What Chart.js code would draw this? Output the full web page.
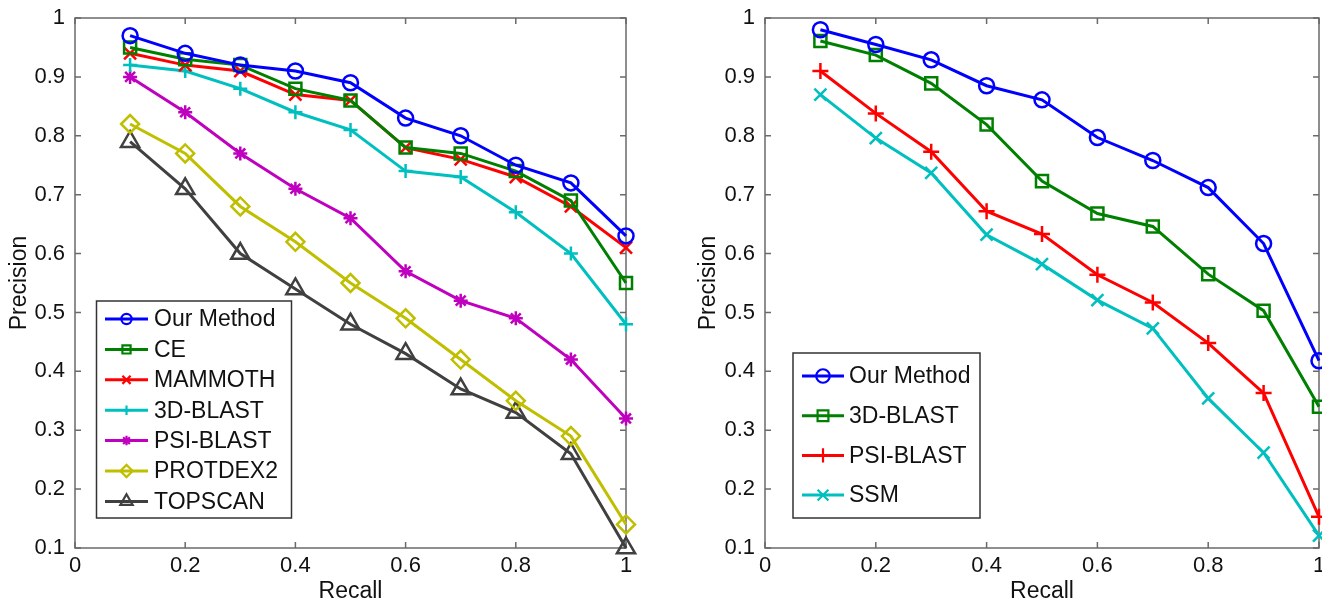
<!DOCTYPE html>
<html><head><meta charset="utf-8">
<script src="https://cdn.jsdelivr.net/npm/chart.js@4.4.1/dist/chart.umd.min.js"></script>
<style>
html,body{margin:0;padding:0;background:#fff;overflow:hidden;width:1322px;height:602px;}
#c1{position:absolute;left:0;top:0;}
#c2{position:absolute;left:660px;top:0;}
</style></head><body>
<canvas id="c1" width="660" height="602"></canvas>
<canvas id="c2" width="720" height="602"></canvas>
<script>
// ---- data ----
const recall = [0.1, 0.2, 0.3, 0.4, 0.5, 0.6, 0.7, 0.8, 0.9, 1.0];
const xTickValues = [0, 0.2, 0.4, 0.6, 0.8, 1];
const xTickLabels = ['0', '0.2', '0.4', '0.6', '0.8', '1'];
const yTickValues = [0.1, 0.2, 0.3, 0.4, 0.5, 0.6, 0.7, 0.8, 0.9, 1];
const yTickLabels = ['0.1', '0.2', '0.3', '0.4', '0.5', '0.6', '0.7', '0.8', '0.9', '1'];

// left panel
const leftNames = ['Our Method', 'CE', 'MAMMOTH', '3D-BLAST', 'PSI-BLAST', 'PROTDEX2', 'TOPSCAN'];
const L_ourMethod = [0.97, 0.94, 0.92, 0.91, 0.89, 0.83, 0.80, 0.75, 0.72, 0.63];
const L_ce        = [0.95, 0.93, 0.92, 0.88, 0.86, 0.78, 0.77, 0.74, 0.69, 0.55];
const L_mammoth   = [0.94, 0.92, 0.91, 0.87, 0.86, 0.78, 0.76, 0.73, 0.68, 0.61];
const L_blast3d   = [0.92, 0.91, 0.88, 0.84, 0.81, 0.74, 0.73, 0.67, 0.60, 0.48];
const L_psiblast  = [0.90, 0.84, 0.77, 0.71, 0.66, 0.57, 0.52, 0.49, 0.42, 0.32];
const L_protdex2  = [0.82, 0.77, 0.68, 0.62, 0.55, 0.49, 0.42, 0.35, 0.29, 0.14];
const L_topscan   = [0.79, 0.71, 0.60, 0.54, 0.48, 0.43, 0.37, 0.33, 0.26, 0.10];

// right panel
const rightNames = ['Our Method', '3D-BLAST', 'PSI-BLAST', 'SSM'];
const R_ourMethod = [0.980, 0.955, 0.929, 0.885, 0.861, 0.797, 0.758, 0.712, 0.617, 0.418];
const R_blast3d   = [0.961, 0.937, 0.889, 0.819, 0.723, 0.668, 0.646, 0.565, 0.503, 0.340];
const R_psiblast  = [0.910, 0.838, 0.773, 0.672, 0.633, 0.564, 0.517, 0.448, 0.363, 0.153];
const R_ssm       = [0.870, 0.796, 0.737, 0.632, 0.582, 0.521, 0.473, 0.354, 0.262, 0.121];

// ---- styling ----
const FONT = '"Liberation Sans", Arial, Helvetica, sans-serif';
Chart.defaults.font.family = FONT;
Chart.defaults.font.size = 22;
Chart.defaults.color = '#111';

const C = {
  blue: '#0000ff', green: '#008000', red: '#ff0000', cyan: '#00bfbf',
  magenta: '#bf00bf', olive: '#bfbf00', gray: '#404040'
};

function ds(label, vals, color, style, radius) {
  return {
    label: label,
    data: recall.map((x, i) => ({x: x, y: vals[i]})),
    borderColor: color,
    backgroundColor: 'rgba(0,0,0,0)',
    borderWidth: 3,
    pointStyle: style,
    pointRadius: radius,
    pointHoverRadius: radius,
    pointBorderWidth: 2.5,
    pointBorderColor: color,
    pointBackgroundColor: 'rgba(0,0,0,0)',
    tension: 0,
    clip: false
  };
}

const framePlugin = {
  id: 'frame',
  beforeDatasetsDraw(chart) {
    const ctx = chart.ctx, a = chart.chartArea;
    const xs = chart.scales.x, ys = chart.scales.y;
    ctx.save();
    ctx.strokeStyle = '#6a6a6a';
    ctx.lineWidth = 1.5;
    ctx.strokeRect(a.left, a.top, a.right - a.left, a.bottom - a.top);
    const t = 6;
    ctx.beginPath();
    xTickValues.forEach(v => {
      const px = xs.getPixelForValue(v);
      ctx.moveTo(px, a.bottom); ctx.lineTo(px, a.bottom - t);
      ctx.moveTo(px, a.top); ctx.lineTo(px, a.top + t);
    });
    yTickValues.forEach(v => {
      const py = ys.getPixelForValue(v);
      ctx.moveTo(a.left, py); ctx.lineTo(a.left + t, py);
      ctx.moveTo(a.right, py); ctx.lineTo(a.right - t, py);
    });
    ctx.stroke();
    ctx.restore();
  }
};

function drawMarker(ctx, style, r, x, y, bw) {
  if (Chart.helpers && Chart.helpers.drawPoint) {
    Chart.helpers.drawPoint(ctx, {pointStyle: style, rotation: 0, radius: r, borderWidth: bw}, x, y);
  }
}

const boxLegendPlugin = {
  id: 'boxLegend',
  afterDraw(chart, args, o) {
    const ctx = chart.ctx;
    ctx.save();
    ctx.fillStyle = '#fff';
    ctx.fillRect(o.x, o.y, o.w, o.h);
    ctx.strokeStyle = '#333';
    ctx.lineWidth = 1.5;
    ctx.strokeRect(o.x, o.y, o.w, o.h);
    chart.data.datasets.forEach((d, i) => {
      const cy = o.y0 + i * o.dy;
      ctx.strokeStyle = d.borderColor;
      ctx.lineWidth = d.borderWidth;
      ctx.beginPath();
      ctx.moveTo(o.lx1, cy); ctx.lineTo(o.lx2, cy);
      ctx.stroke();
      ctx.fillStyle = 'rgba(0,0,0,0)';
      ctx.lineWidth = 2.2;
      drawMarker(ctx, d.pointStyle, d.pointRadius * o.ms, (o.lx1 + o.lx2) / 2, cy, 2.2);
      ctx.fillStyle = '#111';
      ctx.font = '23px ' + FONT;
      ctx.textAlign = 'left';
      ctx.textBaseline = 'middle';
      ctx.fillText(d.label, o.tx, cy + 1);
    });
    ctx.restore();
  }
};

function makeOptions(padLeft, padRight, yWidth, legendOpts) {
  return {
    responsive: false,
    animation: false,
    events: [],
    layout: {padding: {left: padLeft, right: padRight, top: 18, bottom: 0}},
    plugins: {legend: {display: false}, tooltip: {enabled: false}, boxLegend: legendOpts},
    scales: {
      x: {
        type: 'linear', min: 0, max: 1,
        afterBuildTicks: (s) => { s.ticks = xTickValues.map(v => ({value: v})); },
        afterFit: (s) => { s.height = 54; },
        ticks: {padding: -1, color: '#111', font: {size: 22, lineHeight: 1}, callback: (v, i) => xTickLabels[i], maxRotation: 0, autoSkip: false},
        grid: {display: false},
        border: {display: false},
        title: {display: true, text: 'Recall', color: '#111', font: {size: 23, lineHeight: 0.92}, padding: {top: 0, bottom: 0}}
      },
      y: {
        type: 'linear', min: 0.1, max: 1,
        afterBuildTicks: (s) => { s.ticks = yTickValues.map(v => ({value: v})); },
        afterFit: (s) => { s.width = yWidth; },
        ticks: {padding: 2, color: '#111', font: {size: 22}, callback: (v, i) => yTickLabels[i], autoSkip: false},
        grid: {display: false},
        border: {display: false},
        title: {display: true, text: 'Precision', color: '#111', font: {size: 23, lineHeight: 1}, padding: {top: 8, bottom: 0}}
      }
    }
  };
}

new Chart(document.getElementById('c1'), {
  type: 'line',
  data: {
    datasets: [
      ds(leftNames[0], L_ourMethod, C.blue, 'circle', 7.5),
      ds(leftNames[1], L_ce, C.green, 'rect', 8.5),
      ds(leftNames[2], L_mammoth, C.red, 'crossRot', 8.5),
      ds(leftNames[3], L_blast3d, C.cyan, 'cross', 7),
      ds(leftNames[4], L_psiblast, C.magenta, 'star', 7),
      ds(leftNames[5], L_protdex2, C.olive, 'rectRot', 9),
      ds(leftNames[6], L_topscan, C.gray, 'triangle', 10.5)
    ]
  },
  options: makeOptions(0, 34, 75, {x: 96.5, y: 301, w: 195, h: 217, y0: 319, dy: 30.4, lx1: 105, lx2: 148, tx: 154, ms: 0.68}),
  plugins: [framePlugin, boxLegendPlugin]
});

new Chart(document.getElementById('c2'), {
  type: 'line',
  data: {
    datasets: [
      ds(rightNames[0], R_ourMethod, C.blue, 'circle', 7.5),
      ds(rightNames[1], R_blast3d, C.green, 'rect', 8.5),
      ds(rightNames[2], R_psiblast, C.red, 'cross', 8),
      ds(rightNames[3], R_ssm, C.cyan, 'crossRot', 8.5)
    ]
  },
  options: makeOptions(29, 61, 76, {x: 133, y: 353, w: 187, h: 165, y0: 376, dy: 39.7, lx1: 142, lx2: 184, tx: 189, ms: 0.9}),
  plugins: [framePlugin, boxLegendPlugin]
});
</script>
</body></html>
